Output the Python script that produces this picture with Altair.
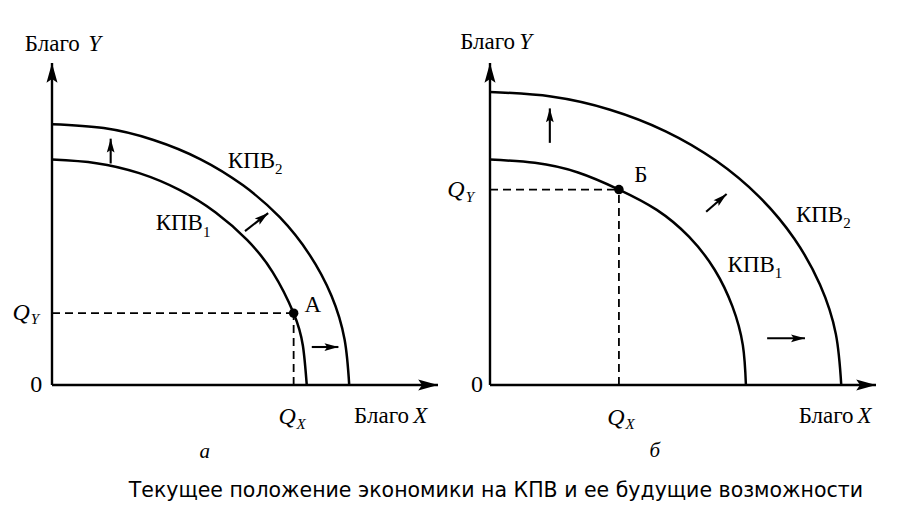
import math

import altair as alt
import pandas as pd

# Both diagrams share one coordinate frame: 100 units of a good span
# 386 px horizontally and 322 px vertically; the origin of diagram "а"
# sits 52 px from the left and 385 px from the top of a 920x523 figure.
FIG_W, FIG_H = 920, 523
PX_PER_X, PX_PER_Y = 386 / 100, 322 / 100
ORIGIN_LEFT, ORIGIN_TOP = 52, 385
PANEL_GAP = 438 / PX_PER_X          # shift of diagram "б" in units of X
X_MAX, Y_MAX = 100, 100             # length of each drawn axis

SERIF = "Liberation Serif"
TEXT_SIZE = 23
SUB_SIZE = 15

# ---------- diagram "а": the economy sits on its frontier ----------
A_PPF1_X = [66.0, 65.0, 62.6, 57.2, 50.6, 42.4, 33.0, 22.6, 11.5, 0.0]
A_PPF1_Y = [0.0, 12.2, 22.3, 35.0, 45.0, 53.6, 60.6, 65.8, 68.9, 70.0]
A_PPF2_X = [77.0, 75.8, 72.4, 66.7, 59.0, 49.5, 38.5, 26.3, 13.4, 0.0]
A_PPF2_Y = [0.0, 14.1, 27.7, 40.5, 52.1, 62.0, 70.1, 76.1, 79.8, 81.0]
A_POINT_X, A_POINT_Y = 62.6, 22.3
A_ARROW_X1 = [15.2, 50.0, 67.3]
A_ARROW_Y1 = [68.8, 47.8, 11.8]
A_ARROW_X2 = [15.2, 56.0, 74.2]
A_ARROW_Y2 = [76.5, 53.4, 11.8]

# ---------- diagram "б": current point and a much larger shift ----------
B_PPF1_X = [66.3, 65.5, 62.8, 58.2, 51.6, 43.2, 33.4, 22.8, 11.6, 0.0]
B_PPF1_Y = [0.0, 12.4, 24.4, 35.8, 46.0, 54.4, 60.7, 66.0, 69.0, 70.0]
B_PPF2_X = [91.0, 89.6, 85.5, 78.8, 69.7, 58.5, 45.5, 31.1, 15.8, 0.0]
B_PPF2_Y = [0.0, 15.8, 31.1, 45.5, 58.5, 69.7, 78.8, 85.5, 89.6, 91.0]
B_POINT_X, B_POINT_Y = 33.4, 60.7
B_ARROW_X1 = [15.5, 56.0, 71.8]
B_ARROW_Y1 = [75.2, 53.8, 14.5]
B_ARROW_X2 = [15.5, 61.3, 81.6]
B_ARROW_Y2 = [85.9, 59.3, 14.5]

CAPTION = "Текущее положение экономики на КПВ и ее будущие возможности"

# arrowhead outline with its tip at the symbol origin, pointing up
ARROW_PATH = "M0,0L-1,3.6L0,2.9L1,3.6Z"

XS = alt.Scale(
    domain=[-ORIGIN_LEFT / PX_PER_X, (FIG_W - ORIGIN_LEFT) / PX_PER_X],
    nice=False, zero=False,
)
YS = alt.Scale(
    domain=[-(FIG_H - ORIGIN_TOP) / PX_PER_Y, ORIGIN_TOP / PX_PER_Y],
    nice=False, zero=False,
)


def xq(field="x"):
    return alt.X(f"{field}:Q", scale=XS, axis=None)


def yq(field="y"):
    return alt.Y(f"{field}:Q", scale=YS, axis=None)


def heading(dx, dy):
    """Clockwise angle from 'up' in screen space for a move of (dx, dy) units."""
    return math.degrees(math.atan2(dx * PX_PER_X, dy * PX_PER_Y)) % 360


def shifted(df, off, cols=("x", "x2")):
    df = df.copy()
    for c in cols:
        if c in df:
            df[c] = df[c] + off
    return df


def curves(x1, y1, x2, y2, off):
    rows = []
    for name, xs, ys in (("КПВ1", x1, y1), ("КПВ2", x2, y2)):
        for i, (xv, yv) in enumerate(zip(xs, ys)):
            rows.append({"curve": name, "i": i, "x": xv, "y": yv})
    return (
        alt.Chart(shifted(pd.DataFrame(rows), off))
        .mark_line(color="black", strokeWidth=2.5, interpolate="natural")
        .encode(x=xq(), y=yq(), detail="curve:N", order="i:Q")
    )


def axes(off):
    lines = pd.DataFrame({"x": [0, 0], "y": [0, 0], "x2": [0, X_MAX], "y2": [Y_MAX, 0]})
    heads = pd.DataFrame({"x": [0, X_MAX], "y": [Y_MAX, 0], "a": [0.0, 90.0]})
    rule = alt.Chart(shifted(lines, off)).mark_rule(color="black", strokeWidth=2.4).encode(
        x=xq(), y=yq(), x2="x2:Q", y2="y2:Q"
    )
    tip = alt.Chart(shifted(heads, off)).mark_point(
        shape=ARROW_PATH, filled=True, color="black", opacity=1, size=121
    ).encode(x=xq(), y=yq(), angle=alt.Angle("a:Q", scale=None))
    return rule + tip


def shifts(x1, y1, x2, y2, off):
    df = pd.DataFrame({"x": x1, "y": y1, "x2": x2, "y2": y2})
    df["a"] = [heading(b - a, d - c) for a, c, b, d in zip(x1, y1, x2, y2)]
    df = shifted(df, off)
    shaft = alt.Chart(df).mark_rule(color="black", strokeWidth=2.1).encode(
        x=xq(), y=yq(), x2="x2:Q", y2="y2:Q"
    )
    tip = alt.Chart(df).mark_point(
        shape=ARROW_PATH, filled=True, color="black", opacity=1, size=60
    ).encode(x=xq("x2"), y=yq("y2"), angle=alt.Angle("a:Q", scale=None))
    return shaft + tip


def guides(px, py, off):
    df = pd.DataFrame({"x": [0, px], "y": [py, 0], "x2": [px, px], "y2": [py, py]})
    dashed = alt.Chart(shifted(df, off)).mark_rule(
        color="black", strokeWidth=1.8, strokeDash=[8, 5]
    ).encode(x=xq(), y=yq(), x2="x2:Q", y2="y2:Q")
    dot = alt.Chart(shifted(pd.DataFrame({"x": [px], "y": [py]}), off)).mark_point(
        shape="circle", filled=True, color="black", opacity=1, size=90
    ).encode(x=xq(), y=yq())
    return dashed + dot


def label(text, x, y, size=TEXT_SIZE, italic=False, align="center", font=SERIF, off=0.0):
    return alt.Chart(pd.DataFrame({"t": [text], "x": [x + off], "y": [y]})).mark_text(
        font=font,
        fontSize=size,
        fontStyle="italic" if italic else "normal",
        align=align,
        baseline="middle",
        color="black",
    ).encode(x=xq(), y=yq(), text="t:N")


def panel_labels(pos, off):
    out = []
    # axis titles
    out.append(label("Благо", pos["gy"][0], pos["gy"][2], align="right", off=off))
    out.append(label("Y", pos["gy"][1], pos["gy"][2], italic=True, align="left", off=off))
    out.append(label("Благо", pos["gx"][0], pos["gx"][2], align="right", off=off))
    out.append(label("X", pos["gx"][1], pos["gx"][2], italic=True, align="left", off=off))
    # origin and coordinates of the marked point
    out.append(label("0", pos["zero"][0], 0, size=24, off=off))
    out.append(label("Q", pos["qy"][0], pos["qy"][2], size=24, italic=True, off=off))
    out.append(label("Y", pos["qy"][1], pos["qy"][3], size=SUB_SIZE, italic=True, off=off))
    out.append(label("Q", pos["qx"][0], pos["qx"][2], size=24, italic=True, off=off))
    out.append(label("X", pos["qx"][1], pos["qx"][3], size=SUB_SIZE, italic=True, off=off))
    # point name and frontier names with subscripts
    out.append(label(pos["pt"][0], pos["pt"][1], pos["pt"][2], off=off))
    for sub, (xr, yl, ys) in (("1", pos["k1"]), ("2", pos["k2"])):
        out.append(label("КПВ", xr, yl, align="right", off=off))
        out.append(label(sub, xr, ys, size=SUB_SIZE, align="left", off=off))
    # diagram letter
    out.append(label(pos["letter"][0], pos["letter"][1], pos["letter"][2],
                     size=21, italic=True, off=off))
    return out


A_POS = {
    "gy": (7.2, 9.4, 106.0),
    "gx": (92.5, 93.6, -9.6),
    "zero": (-4.1,),
    "qy": (-8.0, -4.4, 22.4, 20.4),
    "qx": (60.9, 64.5, -10.0, -12.0),
    "pt": ("A", 67.6, 25.0),
    "k1": (39.1, 50.2, 47.6),
    "k2": (57.8, 69.6, 67.0),
    "letter": ("а", 39.6, -20.8),
}
B_POS = {
    "gy": (6.5, 7.6, 106.4),
    "gx": (94.2, 95.2, -9.6),
    "zero": (-3.4,),
    "qy": (-8.8, -5.2, 60.5, 58.5),
    "qx": (32.6, 36.3, -10.2, -12.2),
    "pt": ("Б", 39.1, 65.1),
    "k1": (73.8, 37.3, 34.8),
    "k2": (91.5, 52.8, 50.3),
    "letter": ("б", 42.7, -20.5),
}

layers = []
for off, ppf, point, arrows, pos in (
    (0.0, (A_PPF1_X, A_PPF1_Y, A_PPF2_X, A_PPF2_Y), (A_POINT_X, A_POINT_Y),
     (A_ARROW_X1, A_ARROW_Y1, A_ARROW_X2, A_ARROW_Y2), A_POS),
    (PANEL_GAP, (B_PPF1_X, B_PPF1_Y, B_PPF2_X, B_PPF2_Y), (B_POINT_X, B_POINT_Y),
     (B_ARROW_X1, B_ARROW_Y1, B_ARROW_X2, B_ARROW_Y2), B_POS),
):
    layers.append(guides(*point, off))
    layers.append(curves(*ppf, off))
    layers.append(axes(off))
    layers.append(shifts(*arrows, off))
    layers.extend(panel_labels(pos, off))

layers.append(label(CAPTION, 115.0, -33.0, size=20.5, font="DejaVu Sans"))

chart = (
    alt.layer(*layers)
    .properties(
        width=FIG_W,
        height=FIG_H,
        autosize=alt.AutoSizeParams(type="none"),
        padding=0,
        background="white",
    )
    .configure_view(stroke=None)
)

chart.save("out.html", embed_options={"renderer": "svg", "actions": False})
